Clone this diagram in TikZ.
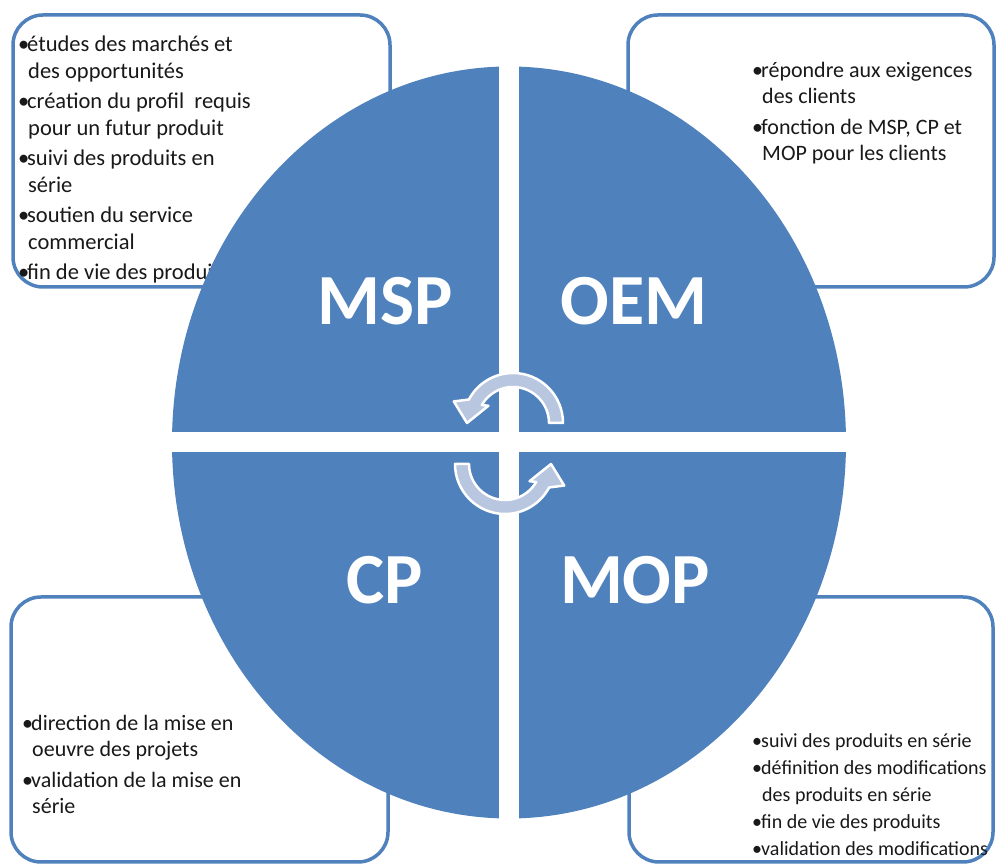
\documentclass[tikz,border=0pt]{standalone}
\usepackage{fontspec}
\setmainfont{Carlito}
\definecolor{quadblue}{HTML}{4F81BD}
\definecolor{boxblue}{HTML}{4F81BD}
\definecolor{arrowfill}{HTML}{B9C6DF}
\tikzset{
  infobox/.style={draw=boxblue,line width=3.5pt,rounded corners=30pt,fill=white},
  infotext/.style={anchor=north west,align=left,inner sep=0pt,text=black!90,font=\fontsize{22.5}{26.5}\selectfont},
  quadlabel/.style={text=white,inner sep=0pt,font=\bfseries\fontsize{72}{74}\selectfont},
  cyclearrow/.style={fill=arrowfill,draw=white,line width=2.5pt,line join=round}
}
\newcommand{\blt}{\makebox[9pt][l]{•}}
\newcommand{\ind}{\hspace*{10pt}}
\begin{document}
\begin{tikzpicture}[x=1pt,y=1pt]
\useasboundingbox (0,0) rectangle (996,864);
\pgfmathsetmacro{\cx}{509}
\pgfmathsetmacro{\cy}{421.5}
\pgfmathsetmacro{\rx}{337}
\pgfmathsetmacro{\ry}{376}
\pgfmathsetmacro{\gap}{10}
% boxes
\foreach \x/\y/\w/\h in {13/577/377/272,628/577/366/272,11/2/377/265,629/2/364/265}{\draw[infobox](\x,\y)rectangle++(\w,\h);}
% texts
\node[infotext] (msptext) at (18,828) {\blt études des marchés et\\ \ind des opportunités\\[4pt]
  \blt création du profil\ \ requis\\ \ind pour un futur produit\\[4pt]
  \blt suivi des produits en\\ \ind série\\[4pt]
  \blt soutien du service\\ \ind commercial\\[4pt]
  \blt fin de vie des produits};
\node[infotext,font=\fontsize{22}{26}\selectfont] (oemtext) at (752,802) {\blt répondre aux exigences\\ \ind des clients\\[5pt]
  \blt fonction de MSP, CP et\\ \ind MOP pour les clients};
\node[infotext,font=\fontsize{22}{26}\selectfont] (cptext) at (22,149) {\blt direction de la mise en\\ \ind oeuvre des projets\\[5pt]
  \blt validation de la mise en\\ \ind série};
\node[infotext,font=\fontsize{20}{27}\selectfont] (moptext) at (752,131) {\blt suivi des produits en série\\
  \blt définition des modifications\\ \ind des produits en série\\
  \blt fin de vie des produits\\ \blt validation des modifications};
% circle
\fill[quadblue](\cx,\cy)ellipse[x radius=\rx,y radius=\ry];
\fill[white](\cx-\gap,\cy-\ry-2)rectangle(\cx+\gap,\cy+\ry+2);
\fill[white](\cx-\rx-2,\cy-\gap)rectangle(\cx+\rx+2,\cy+\gap);
% arrows
\foreach \ax/\ay/\rot in {513/441/0,505/400/180}{\draw[cyclearrow,shift={(\ax,\ay)},rotate=\rot](0:50)arc[start angle=0,end angle=152,radius=50]--(160:63)--(180:46)--(145:30)--(150:36)arc[start angle=150,end angle=0,radius=36]--cycle;}
% labels
\foreach \nm/\x/\y in {MSP/385/563,OEM/634/563,CP/385/284,MOP/635/284}{\node[quadlabel] (\nm) at (\x,\y) {\nm};}
\end{tikzpicture}
\end{document}
